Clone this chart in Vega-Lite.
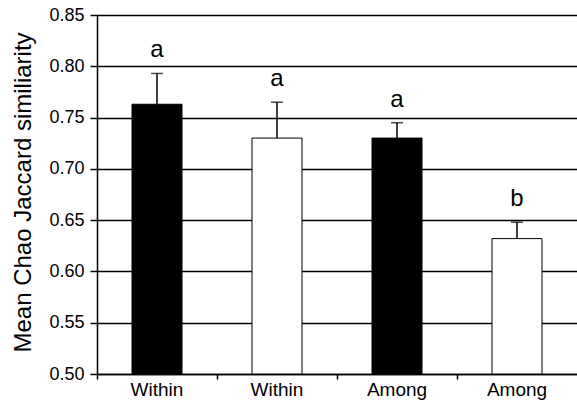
{
  "$schema": "https://vega.github.io/schema/vega-lite/v6.json",
  "width": 480,
  "height": 359,
  "autosize": "none",
  "padding": {"left": 97, "top": 15, "right": 0, "bottom": 27},
  "config": {
    "font": "Liberation Sans",
    "view": {"stroke": null}
  },
  "data": {
    "values": [
      {"group": "Within_1", "set": "A", "mean": 0.763, "upper": 0.793, "letter": "a"},
      {"group": "Within_2", "set": "B", "mean": 0.730, "upper": 0.765, "letter": "a"},
      {"group": "Among_1", "set": "A", "mean": 0.730, "upper": 0.745, "letter": "a"},
      {"group": "Among_2", "set": "B", "mean": 0.632, "upper": 0.648, "letter": "b"}
    ]
  },
  "encoding": {
    "x": {
      "field": "group",
      "type": "nominal",
      "sort": null,
      "scale": {"paddingInner": 0, "paddingOuter": 0},
      "axis": {
        "title": null,
        "labelExpr": "split(datum.value, '_')[0]",
        "labelAngle": 0,
        "bandPosition": 0,
        "labelFontSize": 19,
        "labelColor": "black",
        "labelPadding": 1,
        "tickSize": 5,
        "tickColor": "black",
        "tickWidth": 1.5,
        "domainColor": "black",
        "domainWidth": 1.5
      }
    }
  },
  "layer": [
    {
      "mark": {"type": "bar", "stroke": "black", "strokeWidth": 1, "width": 50},
      "encoding": {
        "y": {
          "field": "mean",
          "type": "quantitative",
          "scale": {"domain": [0.5, 0.85], "zero": false},
          "axis": {
            "title": "Mean Chao Jaccard similiarity",
            "titleFontSize": 24,
            "titleFontWeight": "normal",
            "titleColor": "black",
            "titleAngle": -90,
            "titleX": -74,
            "titleY": 177,
            "titleAlign": "center",
            "titleBaseline": "middle",
            "values": [0.5, 0.55, 0.6, 0.65, 0.7, 0.75, 0.8, 0.85],
            "format": ".2f",
            "labelFontSize": 18,
            "labelColor": "black",
            "labelPadding": 6,
            "tickSize": 7,
            "tickColor": "black",
            "tickWidth": 1.5,
            "domainColor": "black",
            "domainWidth": 1.5,
            "grid": true,
            "gridColor": "black",
            "gridWidth": 1.5,
            "gridOpacity": 1
          }
        },
        "y2": {"datum": 0.5},
        "fill": {
          "field": "set",
          "type": "nominal",
          "scale": {"range": ["black", "white"]},
          "legend": null
        }
      }
    },
    {
      "mark": {"type": "rule", "color": "black", "strokeWidth": 1.5},
      "encoding": {
        "y": {"field": "mean", "type": "quantitative"},
        "y2": {"field": "upper"}
      }
    },
    {
      "mark": {"type": "tick", "color": "black", "thickness": 1.5, "size": 12},
      "encoding": {
        "y": {"field": "upper", "type": "quantitative"}
      }
    },
    {
      "mark": {"type": "text", "fontSize": 24, "color": "black", "dy": -16, "baseline": "alphabetic"},
      "encoding": {
        "y": {"field": "upper", "type": "quantitative"},
        "text": {"field": "letter"}
      }
    }
  ]
}
